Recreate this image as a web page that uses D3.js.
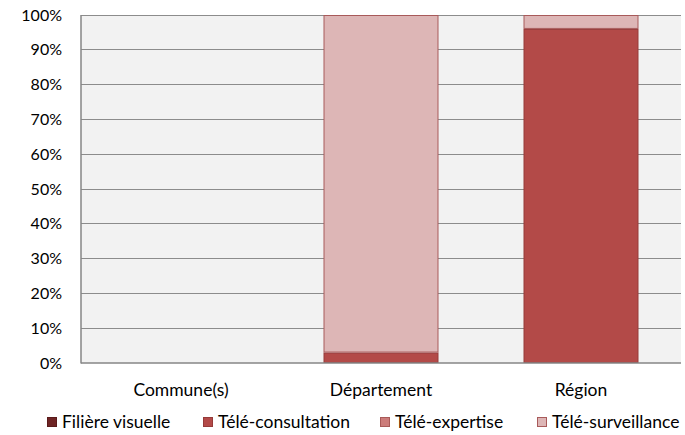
<!DOCTYPE html>
<html><head><meta charset="utf-8">
<script src="https://cdn.jsdelivr.net/npm/d3@7"></script>
<style>body{margin:0;background:#fff;}text{font-family:Lato,"Open Sans",sans-serif;fill:#000;}</style>
</head><body><svg id="c" width="685" height="435"></svg>
<script>
const categories = ["Commune(s)", "Département", "Région"];
const seriesNames = ["Filière visuelle", "Télé-consultation", "Télé-expertise", "Télé-surveillance"];
const filiere = [0, 0, 0];
const consultation = [0, 3, 96];
const expertise = [0, 0, 0];
const surveillance = [0, 97, 4];
const yTicks = [0,10,20,30,40,50,60,70,80,90,100];
const colors = ["#6e2424", "#b34a48", "#cc7c7a", "#ddb6b6"];
const strokes = ["#5a1a1a", "#963a39", "#a85a58", "#a85a5a"];

const svg = d3.select("#c");
const m = {l:81, r:4, t:15, b:72};
const W = 685, H = 435;
const x = d3.scaleBand().domain(categories).range([m.l, W - m.r]).paddingInner(0.425).paddingOuter(0.2125);
const y = d3.scaleLinear().domain([0,100]).range([H - m.b, m.t]);

svg.append("rect").attr("x", m.l).attr("y", m.t).attr("width", W - m.r - m.l).attr("height", y(0) - m.t).attr("fill", "#f2f2f2");

svg.append("g").selectAll("line").data(yTicks.filter(d => d > 0)).join("line")
  .attr("x1", m.l).attr("x2", W - m.r).attr("y1", d => y(d)).attr("y2", d => y(d))
  .attr("stroke", "#8c8c8c").attr("stroke-width", 1).attr("shape-rendering","crispEdges");

const data = [filiere, consultation, expertise, surveillance];
const rows = categories.map((c,i) => {const o = {cat:c}; seriesNames.forEach((s,j)=>o[s]=data[j][i]); return o;});
const stack = d3.stack().keys(seriesNames)(rows);
stack.forEach((layer, j) => {
  svg.append("g").selectAll("rect").data(layer.filter(d => d[1] - d[0] > 0)).join("rect")
    .attr("x", d => x(d.data.cat) + 0.5).attr("width", x.bandwidth() - 1)
    .attr("y", d => y(d[1]) + 0.5).attr("height", d => y(d[0]) - y(d[1]) - 1)
    .attr("fill", colors[j]).attr("stroke", strokes[j]).attr("stroke-width", 1);
});

// axes
svg.append("line").attr("x1", m.l).attr("x2", m.l).attr("y1", m.t).attr("y2", y(0)+0.5).attr("stroke", "#868686").attr("stroke-width", 1.5);
svg.append("line").attr("x1", m.l).attr("x2", W - m.r).attr("y1", y(0)).attr("y2", y(0)).attr("stroke", "#868686").attr("stroke-width", 1.5);

svg.append("g").selectAll("text").data(yTicks).join("text")
  .attr("x", 62).attr("y", d => y(d)).attr("dy", "0.35em").attr("text-anchor", "end")
  .attr("font-size", 16).text(d => d + "%");

svg.append("g").selectAll("text").data(categories).join("text")
  .attr("x", d => x(d) + x.bandwidth()/2).attr("y", 396).attr("text-anchor", "middle")
  .attr("font-size", 17.5).text(d => d);

const legX = [47, 203, 380, 537];
const lg = svg.append("g").selectAll("g").data(seriesNames).join("g").attr("transform", (d,i) => `translate(${legX[i]},0)`);
lg.append("rect").attr("x", 0.5).attr("y", 417.5).attr("width", 9).attr("height", 9)
  .attr("fill", (d,i) => colors[i]).attr("stroke", (d,i) => strokes[i]);
lg.append("text").attr("x", 15).attr("y", 428).attr("font-size", 17.5).text(d => d);
</script></body></html>
